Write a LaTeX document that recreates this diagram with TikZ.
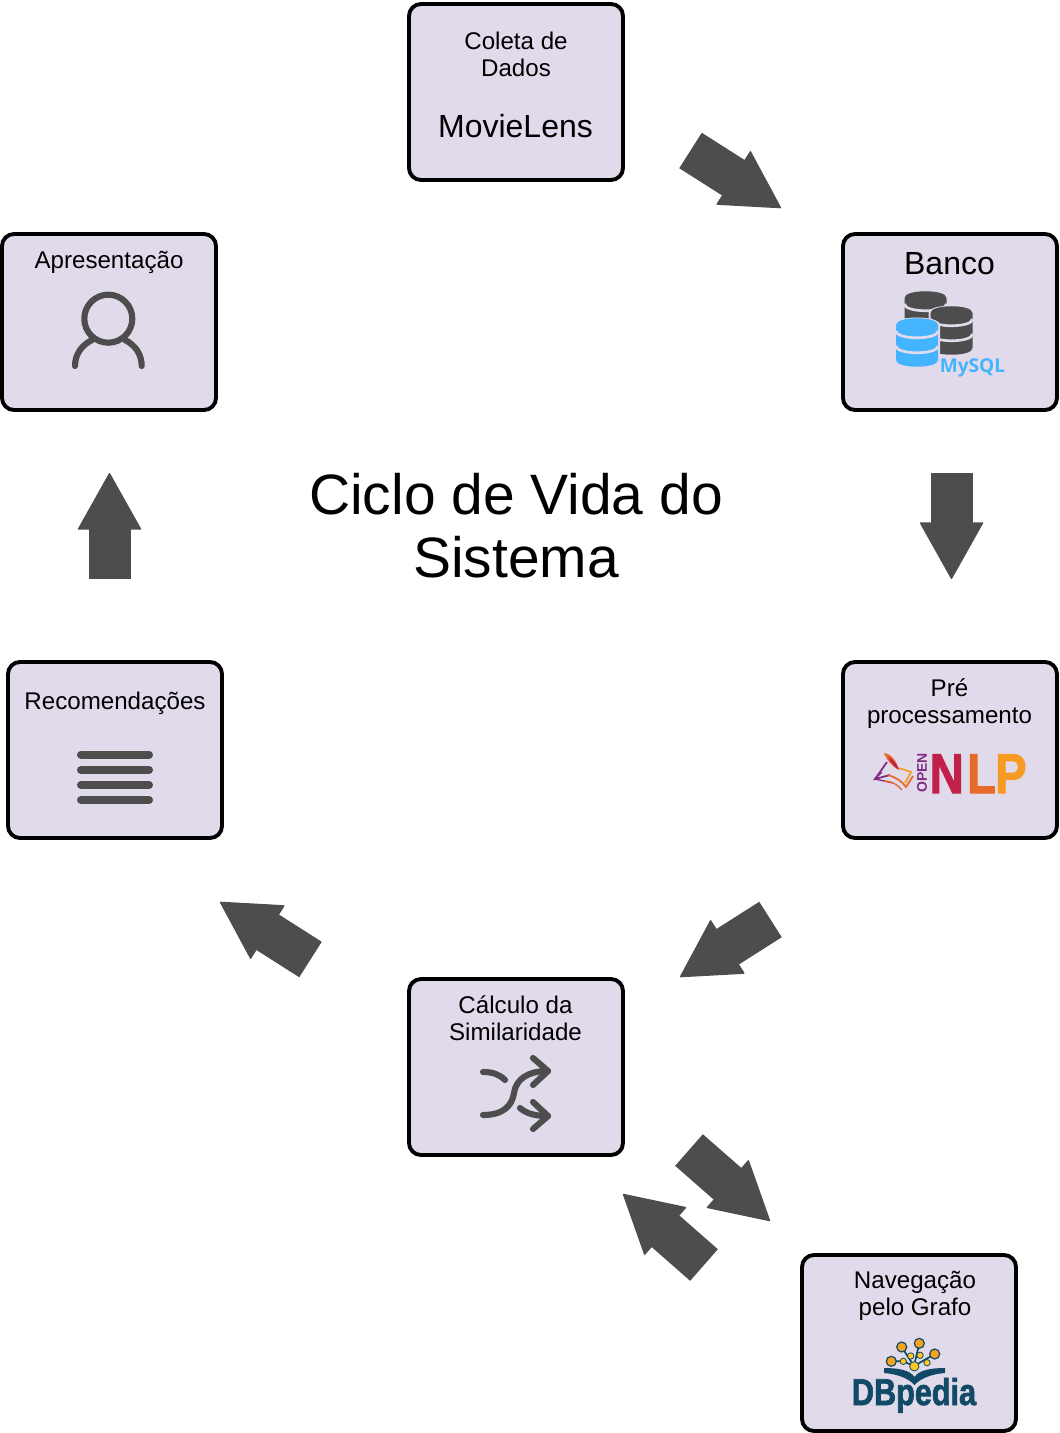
\documentclass[tikz,border=0pt]{standalone}
\usepackage{fontspec}
\setmainfont{Liberation Sans}
\newfontfamily\mysqlfont{Open Sans}
\newfontfamily\heavyfont[FakeBold=2]{Liberation Sans Bold}
\usetikzlibrary{arrows.meta}
\definecolor{boxfill}{HTML}{E1DAEA}
\definecolor{icongray}{HTML}{4D4D4D}
\definecolor{mysqlblue}{HTML}{45B4FF}
\definecolor{nlpred}{HTML}{C1204A}
\definecolor{nlporange}{HTML}{E86A2B}
\definecolor{nlpyellow}{HTML}{F79A24}
\definecolor{nlppurple}{HTML}{7F2C82}
\definecolor{dbteal}{HTML}{114A66}
\definecolor{dborange}{HTML}{F5A31E}
\definecolor{dbyellow}{HTML}{FFC821}
\tikzset{
    procbox/.style={rectangle, draw=black, fill=boxfill, line width=2.9pt, rounded corners=9pt, minimum width=160.5pt, minimum height=132pt, inner sep=0pt},
    boxtext/.style={align=center, inner sep=0pt, font=\fontsize{18.1}{20.25}\selectfont},
    bigtext/.style={align=center, inner sep=0pt, font=\fontsize{24}{27}\selectfont},
    flowarrow/.style={draw=icongray, line width=31.5pt, -{Triangle[length=43pt,width=48pt,round,line width=1pt]}},
    iconline/.style={draw=icongray, line width=4.6pt, line cap=round, line join=round},
    nlpletter/.style={inner sep=0pt, anchor=base west, xscale=.84, font=\heavyfont\fontsize{42}{42}\selectfont},
    bigdot/.style={circle, fill=dborange, draw=dbteal, line width=.9pt, inner sep=0pt, minimum size=7.5pt},
    smalldot/.style={circle, fill=dbyellow, draw=dbteal, line width=.6pt, inner sep=0pt, minimum size=4.8pt}
}
% one stack of discs, top centre at (#1,#2)
\newcommand{\dbstack}[3]{
    \fill[boxfill] (#1-23,#2+7) -- (#1-23,#2+43) .. controls (#1-23,#2+53) and (#1+23,#2+53) .. (#1+23,#2+43) -- (#1+23,#2+7) .. controls (#1+23,#2-3) and (#1-23,#2-3) .. (#1-23,#2+7) -- cycle;
    \fill[#3] (#1-21,#2+7) -- (#1-21,#2+42) .. controls (#1-21,#2+51) and (#1+21,#2+51) .. (#1+21,#2+42) -- (#1+21,#2+7) .. controls (#1+21,#2-2) and (#1-21,#2-2) .. (#1-21,#2+7) -- cycle;
    \draw[boxfill, line width=2pt] (#1-21,#2+13) .. controls (#1-21,#2+22) and (#1+21,#2+22) .. (#1+21,#2+13);
    \draw[boxfill, line width=2pt] (#1-21,#2+28) .. controls (#1-21,#2+37) and (#1+21,#2+37) .. (#1+21,#2+28);
}
\begin{document}
\begin{tikzpicture}[x=0.75pt, y=-0.75pt]
    \useasboundingbox (0,0) rectangle (1059,1433);

    \node[procbox] (coleta) at (516,92) {};
    \node[procbox] (banco) at (950,322) {};
    \node[procbox] (apresentacao) at (109,322) {};
    \node[procbox] (recomendacoes) at (115,750) {};
    \node[procbox] (preproc) at (950,750) {};
    \node[procbox] (calculo) at (516,1067) {};
    \node[procbox] (navegacao) at (909,1343) {};

    \node[boxtext] (coletatxt) at (516,54) {Coleta de\\Dados};
    \node[bigtext] (movielens) at (515.5,126.5) {MovieLens};
    \node[bigtext] (bancotxt) at (949.5,264) {Banco};
    \node[boxtext] (apresentacaotxt) at (109,262) {Apresentação};
    \node[boxtext] (recomendacoestxt) at (115,703) {Recomendações};
    \node[boxtext] (preproctxt) at (949.5,704) {Pré\\processamento};
    \node[boxtext] (calculotxt) at (515.5,1018) {Cálculo da\\Similaridade};
    \node[boxtext] (navegacaotxt) at (915,1296) {Navegação\\pelo Grafo};
    \node[align=center, inner sep=0pt, font=\fontsize{42.7}{47.25}\selectfont] (titulo) at (516,526) {Ciclo de Vida do\\Sistema};

    \coordinate (a1) at (690.5,150.5);
    \coordinate (b1) at (781,208);
    \coordinate (a2) at (951.5,473);
    \coordinate (b2) at (951.5,579);
    \coordinate (a3) at (770.5,919.5);
    \coordinate (b3) at (680,977);
    \coordinate (a4) at (310.5,959.5);
    \coordinate (b4) at (220,902);
    \coordinate (a5) at (109.5,579);
    \coordinate (b5) at (109.5,473);
    \coordinate (a6) at (689,1150);
    \coordinate (b6) at (770,1221);
    \coordinate (a7) at (704,1265);
    \coordinate (b7) at (623,1194);
    \foreach \i in {1,...,7}
        \draw[flowarrow] (a\i) -- (b\i);

    % user
    \draw[iconline] (108.3,318.7) circle (24);
    \draw[iconline] (75,366) .. controls (75,354) and (82,345) .. (92,340);
    \draw[iconline] (141.7,366) .. controls (141.7,354) and (135,345) .. (125,340);

    % list
    \foreach \y in {754.5,770,785,800}
        \draw[iconline, line width=6pt] (81,\y) -- (149,\y);

    % shuffle
    \draw[iconline] (483,1072) .. controls (492,1072) and (499,1074) .. (505,1080);
    \draw[iconline] (483,1115) .. controls (503,1115) and (512,1106) .. (514,1093) .. controls (516,1079) and (528,1071) .. (548,1071);
    \draw[iconline] (533,1058) -- (548,1071) -- (533,1085);
    \draw[iconline] (520,1108) .. controls (527,1114) and (536,1116) .. (548,1116);
    \draw[iconline] (533,1102) -- (548,1116) -- (533,1129);

    % mysql
    \dbstack{925.5}{291}{icongray}
    \dbstack{951.5}{306}{icongray}
    \dbstack{917}{318}{mysqlblue}
    \node[inner sep=0pt, text=mysqlblue, font=\mysqlfont\bfseries\fontsize{14.3}{15}\selectfont] (mysql) at (972.5,367.5) {MySQL};

    % opennlp
    \node[inner sep=0pt, text=nlppurple, rotate=90, font=\bfseries\fontsize{10.5}{11}\selectfont] (opentxt) at (922,773) {OPEN};
    \node[nlpletter, text=nlpred] (nlpn) at (929.5,793) {N};
    \node[nlpletter, text=nlporange] (nlpl) at (967,793) {L};
    \node[nlpletter, text=nlpyellow] (nlpp) at (995,793) {P};
    \fill[nlporange] (884,753) .. controls (892,754) and (897,762) .. (899,770) .. controls (893,767) and (887,761) .. (884,753) -- cycle;
    \fill[nlpred] (888,757) .. controls (893,759) and (897,764) .. (899,770) .. controls (895,768) and (891,763) .. (888,757) -- cycle;
    \draw[nlppurple, line width=1.3pt] (887,762) -- (875,779) -- (890,775);
    \draw[nlppurple, line width=1pt] (882,772) -- (875,779) -- (893,783);
    \draw[nlporange, line width=1.3pt] (888,775) .. controls (895,777) and (902,781) .. (906,787) -- (913,776);
    \draw[nlpyellow, line width=1.2pt] (899,768) -- (911,772) -- (905,783);
    \draw[nlporange, line width=1pt] (884,781) .. controls (892,781) and (898,785) .. (902,790);

    % dbpedia
    \draw[dbteal, line width=1.3pt] (914,1366) -- (901.7,1347);
    \draw[dbteal, line width=1.3pt] (914,1366) -- (919.3,1343.3);
    \draw[dbteal, line width=1.3pt] (914,1366) -- (934.7,1354);
    \draw[dbteal, line width=1.3pt] (914,1366) -- (903.3,1361.3) -- (891.3,1361.3);
    \fill[dbteal] (884,1368) .. controls (898,1368) and (910,1370) .. (914.5,1377) .. controls (919,1370) and (931,1368) .. (945,1368) -- (945,1373) .. controls (932,1374) and (921,1378) .. (914.5,1385) .. controls (908,1378) and (897,1374) .. (884,1373) -- cycle;
    \node[bigdot] (dot1) at (919.3,1343.3) {};
    \node[bigdot] (dot2) at (901.7,1347) {};
    \node[bigdot] (dot3) at (934.7,1354) {};
    \node[bigdot] (dot4) at (891.3,1361.3) {};
    \node[smalldot] (dot5) at (920,1355.3) {};
    \node[smalldot] (dot6) at (910.7,1356) {};
    \node[smalldot] (dot7) at (903.3,1361.3) {};
    \node[smalldot] (dot8) at (927,1362.7) {};
    \node[smalldot, minimum size=7pt] (dot9) at (914.3,1366.3) {};
    \node[inner sep=0pt, anchor=base, xscale=.82, text=dbteal, font=\heavyfont\fontsize{28}{28}\selectfont] (dbpedia) at (914,1405) {DBpedia};
\end{tikzpicture}
\end{document}
